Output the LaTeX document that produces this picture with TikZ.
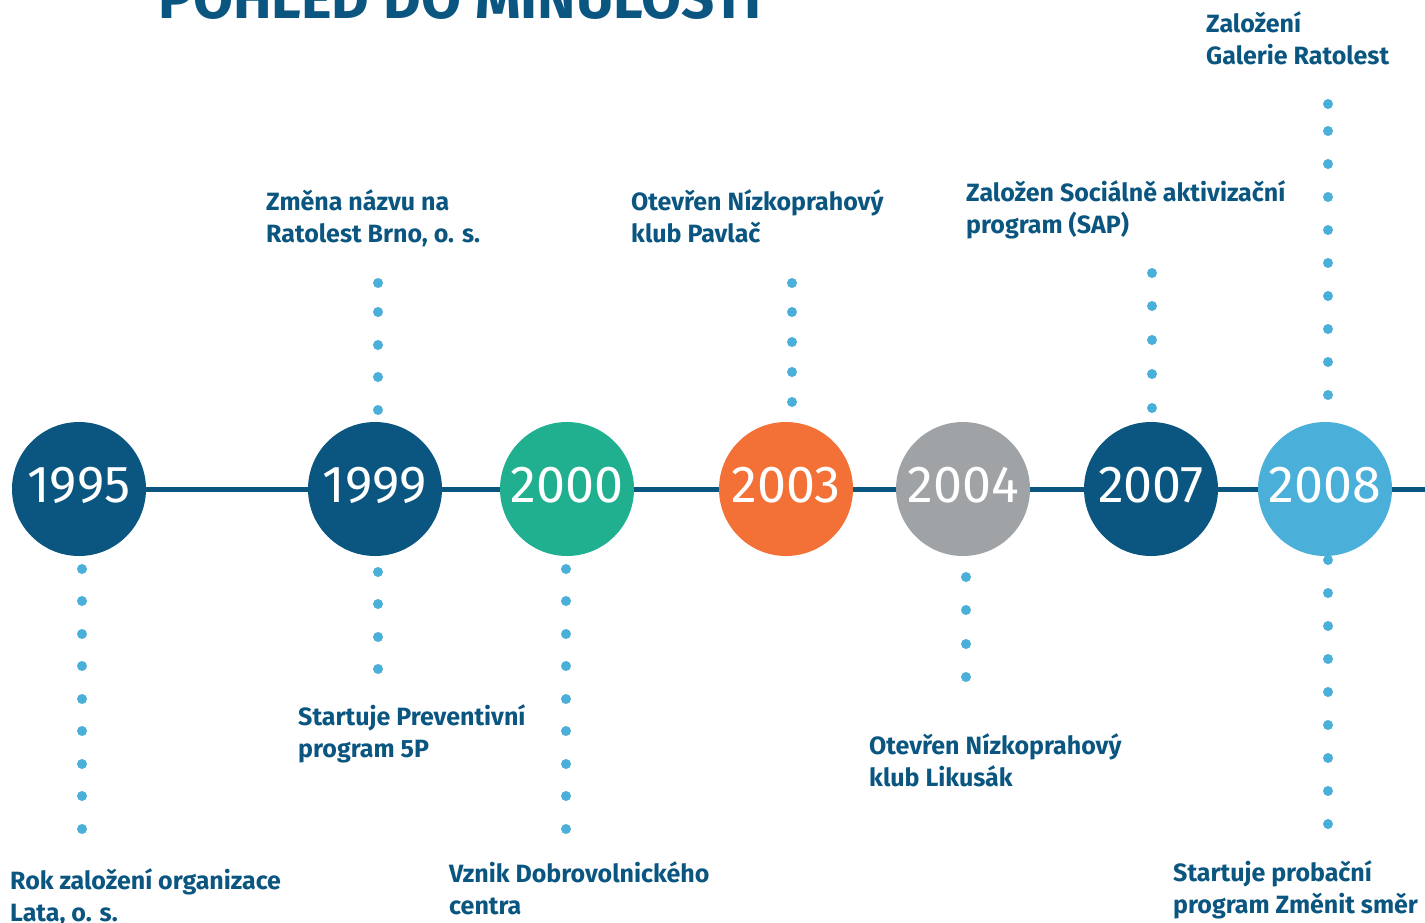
\documentclass[tikz,border=0pt]{standalone}
\usepackage{fontspec}
\setmainfont{Fira Sans}
\usetikzlibrary{positioning}

\definecolor{ratblue}{HTML}{0A5680}
\definecolor{ratteal}{HTML}{20B08F}
\definecolor{ratorange}{HTML}{F37137}
\definecolor{ratgray}{HTML}{A0A3A6}
\definecolor{ratsky}{HTML}{4AAFD9}

\begin{document}
\begin{tikzpicture}[x=1pt, y=-1pt, every node/.style={inner sep=0pt},
  year/.style={circle, minimum size=134pt, text=white, font=\fontsize{52}{52}\selectfont},
  note/.style={anchor=base west, align=left, text=ratblue, font=\bfseries\fontsize{25}{32}\selectfont},
  dotc/.style={fill=ratsky}]
\useasboundingbox (0,0) rectangle (1425,922);

\node (title) [anchor=base west, text=ratblue, font=\bfseries\fontsize{58}{58}\selectfont] at (158,18) {POHLED DO MINULOSTI};

% -------------------------------

\node (y1995) [year, fill=ratblue] at (79,489) {};
\node (y1999) [year, fill=ratblue] at (375,489) {};
\node (y2000) [year, fill=ratteal] at (567,489) {};
\node (y2003) [year, fill=ratorange] at (786,489) {};
\node (y2004) [year, fill=ratgray] at (963,489) {};
\node (y2007) [year, fill=ratblue] at (1151,489) {};
\node (y2008) [year, fill=ratsky] at (1325,489) {};
\coordinate (lineend) at (1425,489);

\draw[ratblue, line width=5pt] (y1995) edge (y1999) (y1999) edge (y2000) (y2000) edge (y2003)
  (y2003) edge (y2004) (y2004) edge (y2007) (y2007) edge (y2008) (y2008) -- (lineend);

\foreach \n/\t in {y1995/1995, y1999/1999, y2000/2000, y2003/2003, y2004/2004, y2007/2007, y2008/2008}
  \node[year, text=white] at ([yshift=4pt]\n.center) {\t};

% -------------------------------

\foreach \y in {569,601,634,666,699,731,764,796,829} \fill[dotc] (82,\y) circle (5pt);
\foreach \y in {283,312,345,377,410} \fill[dotc] (378,\y) circle (5pt);
\foreach \y in {572,604,637,669} \fill[dotc] (378,\y) circle (5pt);
\foreach \y in {569,601,634,666,699,731,764,796,829} \fill[dotc] (566,\y) circle (5pt);
\foreach \y in {283,312,342,372,402} \fill[dotc] (792,\y) circle (5pt);
\foreach \y in {577,610,644,677} \fill[dotc] (966,\y) circle (5pt);
\foreach \y in {273,306,340,374,408} \fill[dotc] (1152,\y) circle (5pt);
\foreach \y in {104,131,164,197,230,263,296,329,362,395} \fill[dotc] (1328,\y) circle (5pt);
\foreach \y in {560,593,626,659,692,725,758,791,824} \fill[dotc] (1328,\y) circle (5pt);

% -------------------------------

\node (n1995) [note] at (10,921) {Rok založení organizace\\Lata, o. s.};
\node (n1999a) [note] at (266,242) {Změna názvu na\\Ratolest Brno, o. s.};
\node (n1999b) [note] at (298,757) {Startuje Preventivní\\program 5P};
\node (n2000) [note] at (449,914) {Vznik Dobrovolnického\\centra};
\node (n2003) [note] at (631,242) {Otevřen Nízkoprahový\\klub Pavlač};
\node (n2004) [note] at (869,786) {Otevřen Nízkoprahový\\klub Likusák};
\node (n2007) [note] at (966,233) {Založen Sociálně aktivizační\\program (SAP)};
\node (n2008a) [note] at (1206,64) {Založení\\Galerie Ratolest};
\node (n2008b) [note] at (1173,913) {Startuje probační\\program Změnit směr};
\end{tikzpicture}
\end{document}
